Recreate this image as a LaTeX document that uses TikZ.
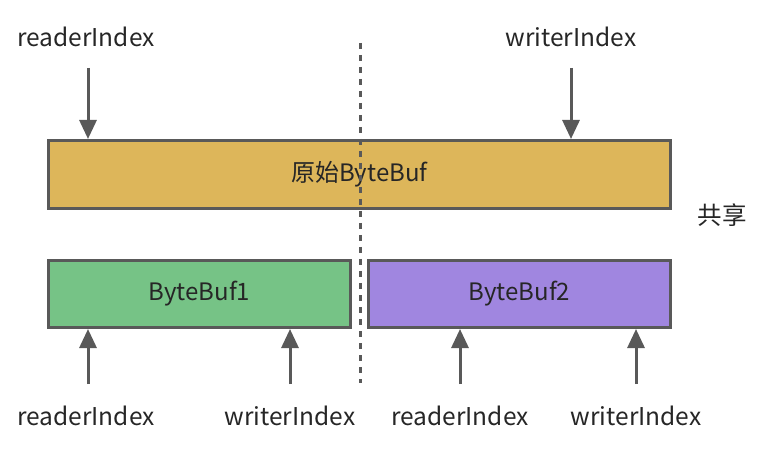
\documentclass[tikz,border=0pt]{standalone}
\usepackage{fontspec}
\setmainfont{Noto Sans CJK SC}
\usetikzlibrary{arrows.meta}
\definecolor{edge}{HTML}{595959}
\definecolor{gold}{HTML}{DDB65A}
\definecolor{greenbuf}{HTML}{76C386}
\definecolor{purplebuf}{HTML}{A086E0}
\definecolor{txt}{HTML}{262626}
\tikzset{
  buf/.style={draw=edge, line width=3pt, anchor=north west, inner sep=0pt, text=txt, font=\fontsize{24}{28}\selectfont},
  lbl/.style={text=txt, font=\fontsize{24.5}{28}\selectfont, inner sep=0pt},
  ptr/.style={draw=edge, line width=3pt, -{Triangle[length=19pt,width=17pt]}},
}
\begin{document}
\begin{tikzpicture}[x=1pt,y=-1pt]
\useasboundingbox (0,0) rectangle (768,454);
\node[buf, fill=gold, minimum width=622pt, minimum height=68pt] (orig) at (47,139) {原始ByteBuf};
\node[buf, fill=greenbuf, minimum width=302pt, minimum height=67pt] (b1) at (47,259) {ByteBuf1};
\node[buf, fill=purplebuf, minimum width=302pt, minimum height=67pt] (b2) at (367,259) {ByteBuf2};
\coordinate (dtop) at (360,43);
\coordinate (dbot) at (360,383);
\draw[edge, line width=3pt, dash pattern=on 6pt off 6pt] (dtop) -- (dbot);
\node[lbl] (r0) at (86,37) {readerIndex};
\node[lbl] (w0) at (571,37) {writerIndex};
\node[lbl] (share) at (722,215) {共享};
\node[lbl] (r1) at (86,416) {readerIndex};
\node[lbl] (w1) at (290,416) {writerIndex};
\node[lbl] (r2) at (460,416) {readerIndex};
\node[lbl] (w2) at (636,416) {writerIndex};
\coordinate (r0s) at (88,68);
\coordinate (w0s) at (571,68);
\coordinate (r1s) at (88,384);
\coordinate (w1s) at (290,384);
\coordinate (r2s) at (460,384);
\coordinate (w2s) at (636,384);
\draw[ptr] (r0s) -- (r0s |- orig.north);
\draw[ptr] (w0s) -- (w0s |- orig.north);
\draw[ptr] (r1s) -- (r1s |- b1.south);
\draw[ptr] (w1s) -- (w1s |- b1.south);
\draw[ptr] (r2s) -- (r2s |- b2.south);
\draw[ptr] (w2s) -- (w2s |- b2.south);
\end{tikzpicture}
\end{document}
